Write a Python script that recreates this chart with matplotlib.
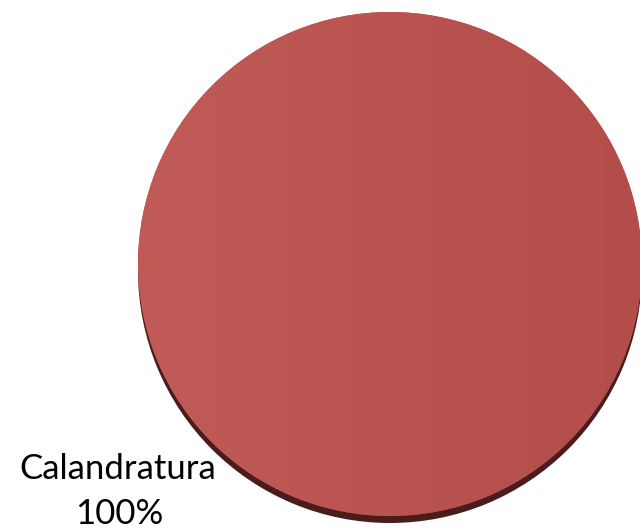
import numpy as np
import matplotlib.pyplot as plt
from matplotlib.colors import LinearSegmentedColormap

# Data
categories = ['Calandratura']
shares = [100]

FACE_LEFT = '#c15b57'
FACE_RIGHT = '#b24d49'
SHADOW = '#4b1c1c'

fig = plt.figure(figsize=(6.4, 5.31), dpi=100)
ax = fig.add_axes([0, 0, 1, 1])

cx, cy, r = 390, 264, 252

# dark "3D" edge underneath
ax.pie(shares, colors=[SHADOW], radius=r, center=(cx, cy + 7),
       wedgeprops=dict(linewidth=0), frame=True)
# top face
wedges, _ = ax.pie(shares, colors=[FACE_RIGHT], radius=r, center=(cx, cy),
                   wedgeprops=dict(linewidth=0), frame=True)

# soft left-to-right shading on the face
cmap = LinearSegmentedColormap.from_list('face', [FACE_LEFT, FACE_RIGHT])
grad = np.linspace(0, 1, 256).reshape(1, -1)
img = ax.imshow(grad, cmap=cmap, extent=(cx - r, cx + r, cy + r, cy - r),
                aspect='auto', zorder=wedges[0].get_zorder() + 0.1)
img.set_clip_path(wedges[0])

ax.set_xlim(0, 640)
ax.set_ylim(531, 0)
ax.set_aspect('equal')
ax.axis('off')

# labels: name on one line, share below
for name, val in zip(categories, shares):
    ax.text(118, 479, name, ha='center', va='baseline',
            fontsize=25, family='Lato', color='black')
    ax.text(119, 524, f'{val}%', ha='center', va='baseline',
            fontsize=25, family='Lato', color='black')

fig.savefig('out.png', dpi=100)
